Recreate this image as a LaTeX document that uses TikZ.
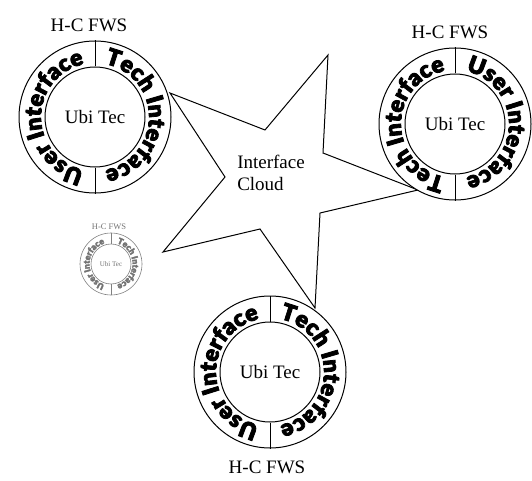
\documentclass[tikz,border=0pt]{standalone}
\usepackage{fontspec}
\setmainfont{Liberation Serif}
\newfontface\ringfont{Lato Black}
\usetikzlibrary{decorations.text}
\newcommand\heavy{\special{pdf:literal direct 2 Tr 0.8 w}}
\newcommand\heavysmall{\special{pdf:literal direct 2 Tr 0.3 w}}
\newcommand\rfbig{\fontsize{23}{26}\selectfont\ringfont\heavy}
\newcommand\rfsmall{\fontsize{8.5}{10}\selectfont\ringfont\heavysmall}
\newcommand\ringarc[6]{%
  \begin{scope}
  \path[decorate, decoration={text along path, text={|#6|#5}, text align=center}]
    (#1) ++(#3:#2) arc[start angle=#3, end angle=#4, radius=#2];
  \end{scope}}
\begin{document}
\begin{tikzpicture}[x=1pt,y=1pt,
  lw/.style={line width=1pt},
  ring/.style={circle, draw, lw, fill=white, minimum size=152pt, inner sep=0pt},
  core/.style={circle, draw, lw, minimum size=100pt, inner sep=0pt, font=\fontsize{19}{22}\selectfont},
  lbl/.style={font=\fontsize{19}{22}\selectfont, inner sep=0pt},
  sring/.style={circle, draw=black!50, line width=0.6pt, fill=white, minimum size=62pt, inner sep=0pt},
  score/.style={circle, draw=black!50, line width=0.6pt, minimum size=40pt, inner sep=0pt, text=black!55, font=\fontsize{7}{8}\selectfont},
  slbl/.style={font=\fontsize{8.5}{10}\selectfont, text=black!55, inner sep=0pt}]
\useasboundingbox (0,0) rectangle (532,480);

% star (interface cloud)
\coordinate (s1) at (328,425);
\coordinate (s2) at (323,327);
\coordinate (s3) at (418,290);
\coordinate (s4) at (320,267);
\coordinate (s5) at (315,172);
\coordinate (s6) at (260,251);
\coordinate (s7) at (163,228);
\coordinate (s8) at (225,303);
\coordinate (s9) at (170,387);
\coordinate (s10) at (265,350);
\draw[lw, line join=miter, fill=white] (s1) -- (s2) -- (s3) -- (s4) -- (s5) -- (s6) -- (s7) -- (s8) -- (s9) -- (s10) -- cycle;
\node[lbl, align=left] (cloud) at (271,307) {Interface\\Cloud};

% top-left FWS
\node[ring] (tl) at (95,363) {};
\node[core] (tlc) at (95,363) {Ubi Tec};
\draw[lw] (tlc.north) -- (tl.north);
\draw[lw] (tlc.south) -- (tl.south);
\ringarc{tl}{54pt}{90}{-90}{Tech Interface}{\rfbig}
\ringarc{tl}{54pt}{270}{90}{User Interface}{\rfbig}
\node[lbl] (tll) at (89,455) {H-C FWS};

% top-right FWS
\node[ring] (tr) at (455,356) {};
\node[core] (trc) at (455,356) {Ubi Tec};
\draw[lw] (trc.north) -- (tr.north);
\draw[lw] (trc.south) -- (tr.south);
\ringarc{tr}{54pt}{90}{-90}{User Interface}{\rfbig}
\ringarc{tr}{54pt}{270}{90}{Tech Interface}{\rfbig}
\node[lbl] (trl) at (450,448) {H-C FWS};

% bottom FWS
\node[ring] (bt) at (270,108) {};
\node[core] (btc) at (270,108) {Ubi Tec};
\draw[lw] (btc.north) -- (bt.north);
\draw[lw] (btc.south) -- (bt.south);
\ringarc{bt}{54pt}{90}{-90}{Tech Interface}{\rfbig}
\ringarc{bt}{54pt}{270}{90}{User Interface}{\rfbig}
\node[lbl] (btl) at (267,13) {H-C FWS};

% small faded FWS
\node[sring] (sm) at (111,216) {};
\node[score] (smc) at (111,216) {Ubi Tec};
\draw[draw=black!50, line width=0.6pt] (smc.north) -- (sm.north);
\draw[draw=black!50, line width=0.6pt] (smc.south) -- (sm.south);
\begin{scope}
\path[decorate, decoration={text along path, text={|\rfsmall|Tech Interface}, text align=center, text color=black!55}]
  (sm) ++(90:21.5pt) arc[start angle=90, end angle=-90, radius=21.5pt];
\end{scope}
\begin{scope}
\path[decorate, decoration={text along path, text={|\rfsmall|User Interface}, text align=center, text color=black!55}]
  (sm) ++(270:21.5pt) arc[start angle=270, end angle=90, radius=21.5pt];
\end{scope}
\node[slbl] (sml) at (109,253) {H-C FWS};
\end{tikzpicture}
\end{document}
